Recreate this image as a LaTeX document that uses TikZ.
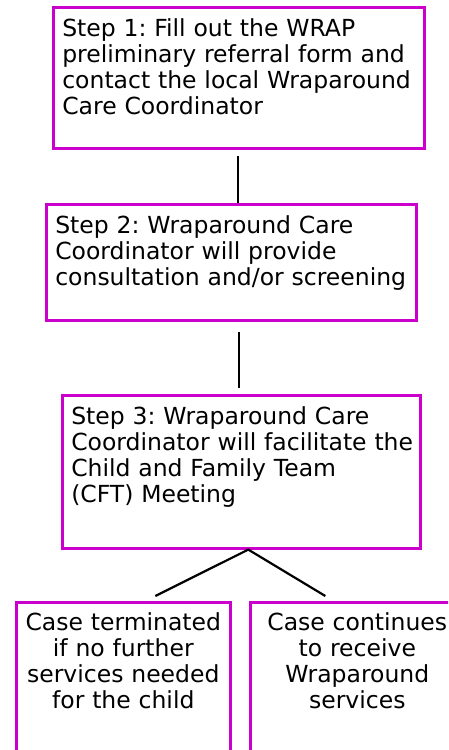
\documentclass[tikz,border=0pt]{standalone}
\usepackage{fontspec}
\setmainfont{DejaVu Sans}
\usetikzlibrary{positioning,calc}
\definecolor{wrapmag}{RGB}{204,0,204}
\frenchspacing

\tikzset{
    stepbox/.style={draw=wrapmag, line width=2.6pt, anchor=north west, inner xsep=9pt, inner ysep=4pt,
        align=left, text height=25pt, font=\fontsize{23.5}{26}\selectfont},
    endbox/.style={stepbox, align=center, text height=24pt},
    link/.style={line width=2.2pt}
}

\begin{document}
\begin{tikzpicture}[x=1pt, y=-1pt]
    \useasboundingbox (0,0) rectangle (448,750);
    \clip (0,0) rectangle (448,750);
    % steps
    \node[stepbox, text width=353pt, text depth=108pt] (s1) at (52,6)
        {Step 1: Fill out the WRAP\\preliminary referral form and\\contact the local Wraparound\\Care Coordinator};
    \node[stepbox, text width=352pt, text depth=83pt] (s2) at (45,203)
        {Step 2: Wraparound Care\\Coordinator will provide\\consultation and/or screening};
    \node[stepbox, text width=340pt, text depth=120pt] (s3) at (61,394)
        {Step 3: Wraparound Care\\\mbox{Coordinator will facilitate the}\\Child and Family Team\\(CFT) Meeting};
    % outcomes
    \node[endbox, text width=196pt, text depth=127pt] (end1) at (15,601)
        {Case terminated\\if no further\\services needed\\for the child};
    \node[endbox, text width=196pt, text depth=127pt] (end2) at (249,601)
        {Case continues\\to receive\\Wraparound\\services};
    % connectors
    \draw[link] ([xshift=-1pt,yshift=-6pt]s1.south) -- ([xshift=-1pt]s1.south |- s2.north);
    \draw[link] ([xshift=8pt,yshift=-10pt]s2.south) -- ([xshift=8pt,yshift=6pt]s2.south |- s3.north);
    \draw[link] ([xshift=32pt,yshift=5pt]end1.north) -- ([xshift=7pt]s3.south) -- ([xshift=-32pt,yshift=5pt]end2.north);
\end{tikzpicture}
\end{document}
